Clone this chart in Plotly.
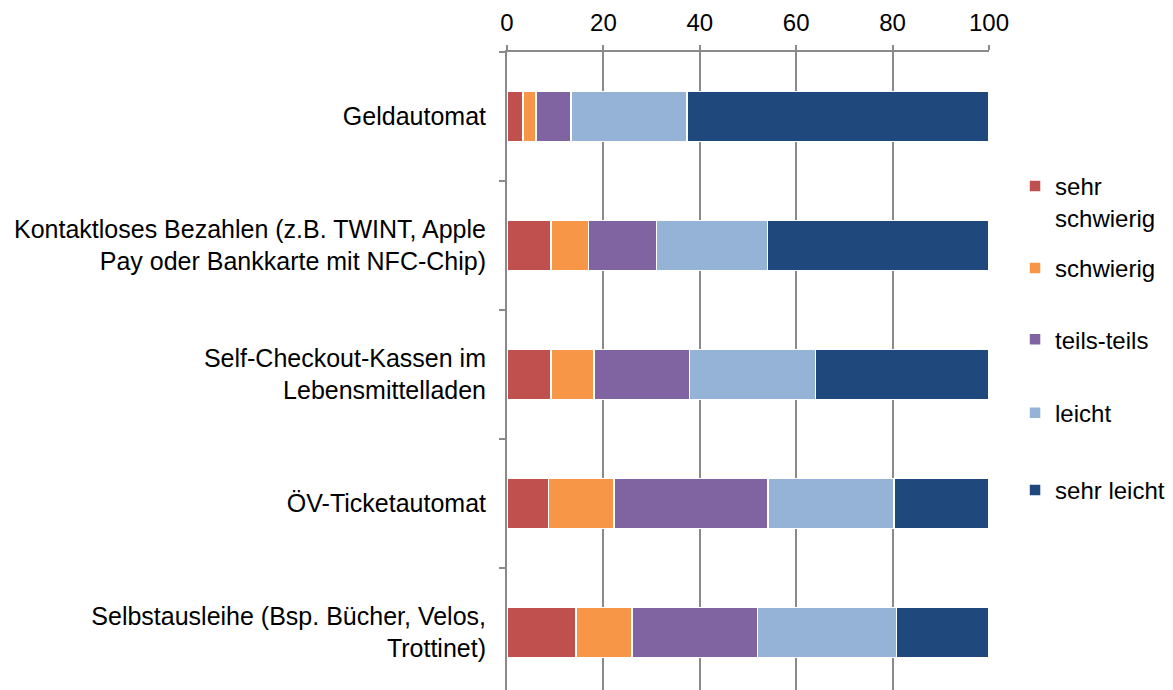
import plotly.graph_objects as go

categories = [
    "Geldautomat",
    "Kontaktloses Bezahlen (z.B. TWINT, Apple<br>Pay oder Bankkarte mit NFC-Chip)",
    "Self-Checkout-Kassen im<br>Lebensmittelladen",
    "ÖV-Ticketautomat",
    "Selbstausleihe (Bsp. Bücher, Velos,<br>Trottinet)",
]
series_names = ["sehr<br>schwierig", "schwierig", "teils-teils", "leicht", "sehr leicht"]
sehr_schwierig = [3.3, 9.1, 9.1, 8.6, 14.3]
schwierig = [2.7, 7.8, 8.9, 13.6, 11.6]
teils_teils = [7.3, 14.1, 19.9, 31.9, 26.1]
leicht = [24.0, 23.0, 26.1, 26.2, 28.8]
sehr_leicht = [62.7, 46.0, 36.0, 19.7, 19.2]
tick_values = [0, 20, 40, 60, 80, 100]

colors = ["#C0504D", "#F79646", "#8064A2", "#95B3D7", "#1F497D"]
values = [sehr_schwierig, schwierig, teils_teils, leicht, sehr_leicht]
legend_ids = ["legend", "legend2", "legend3", "legend4", "legend5"]
legend_y = [0.765, 0.661, 0.549, 0.434, 0.313]

FONT = "Liberation Sans, Arial, sans-serif"
GRID = "#8a8a8a"

fig = go.Figure()
for i, (name, vals) in enumerate(zip(series_names, values)):
    fig.add_trace(go.Bar(
        y=categories, x=vals, name=name, orientation="h",
        marker=dict(color=colors[i], line=dict(color="white", width=1.5)),
        width=0.385, legend=legend_ids[i],
    ))

legend_layout = {}
for i, lid in enumerate(legend_ids):
    legend_layout[lid] = dict(
        x=1.054, xanchor="left", y=legend_y[i], yanchor="middle",
        valign="top", itemwidth=30, bgcolor="rgba(0,0,0,0)",
        font=dict(family=FONT, size=24, color="black"),
    )

fig.update_layout(
    barmode="stack",
    width=1165, height=682,
    margin=dict(l=499, r=184, t=44, b=0),
    paper_bgcolor="white", plot_bgcolor="white",
    font=dict(family=FONT, size=25, color="black"),
    showlegend=True,
    xaxis=dict(
        side="top", range=[0, 100], tickvals=tick_values,
        showgrid=True, gridcolor=GRID, gridwidth=2,
        showline=True, linecolor=GRID, linewidth=2,
        ticks="outside", ticklen=5, tickcolor=GRID, tickwidth=2,
        zeroline=False, tickfont=dict(size=24), ticklabelstandoff=4,
    ),
    yaxis=dict(
        categoryorder="array", categoryarray=categories,
        range=[4.446, -0.5],
        showline=True, linecolor=GRID, linewidth=2,
        ticks="outside", tickson="boundaries", ticklen=6, tickcolor=GRID, tickwidth=2,
        showgrid=False, zeroline=False, tickfont=dict(size=25),
        ticklabelstandoff=14,
    ),
    **legend_layout,
)

fig.write_html("out.html")
